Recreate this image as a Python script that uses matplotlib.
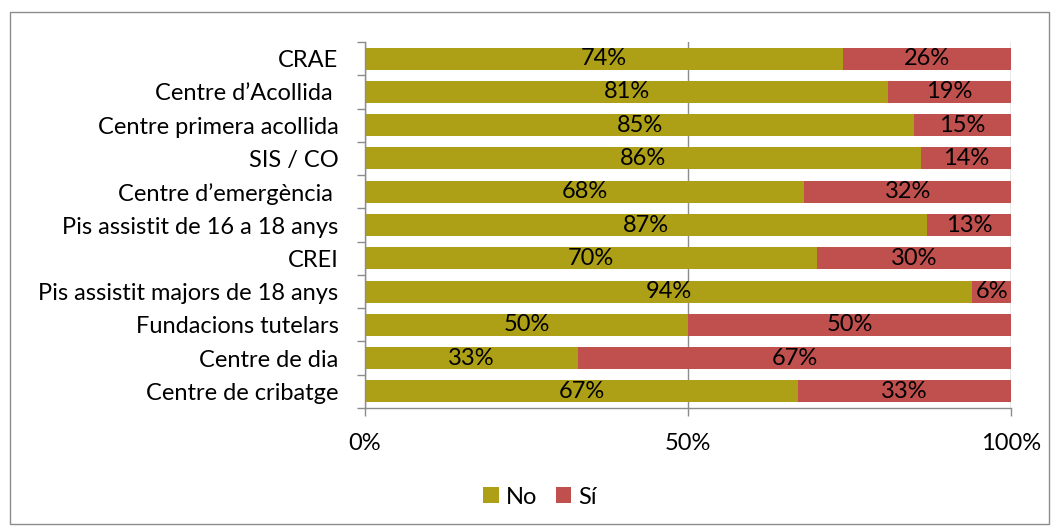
import matplotlib
matplotlib.use("Agg")
import matplotlib.pyplot as plt
from matplotlib.patches import Rectangle

plt.rcParams['font.family'] = ['Lato', 'DejaVu Sans']

categories = ["CRAE", "Centre d’Acollida ", "Centre primera acollida", "SIS / CO",
              "Centre d’emergència ", "Pis assistit de 16 a 18 anys", "CREI",
              "Pis assistit majors de 18 anys", "Fundacions tutelars",
              "Centre de dia", "Centre de cribatge"]
no_vals = [74, 81, 85, 86, 68, 87, 70, 94, 50, 33, 67]
si_vals = [26, 19, 15, 14, 32, 13, 30, 6, 50, 67, 33]
xticks = [0, 50, 100]
xtick_labels = ["0%", "50%", "100%"]

c_no = "#ADA016"
c_si = "#C0504D"
grid_c = "#8C8C8C"

fig = plt.figure(figsize=(10.58, 5.31), dpi=100)
fig.patches.append(Rectangle((10/1058, 1 - 524/531), 1039/1058, 512/531,
                             transform=fig.transFigure, fill=False,
                             edgecolor="#8C8C8C", linewidth=1.0))
ax = fig.add_axes([365/1058, 1 - 408/531, 646/1058, 366/531])

n = len(categories)
ys = list(range(n))
ax.barh(ys, no_vals, height=0.66, color=c_no, label="No", zorder=2)
ax.barh(ys, si_vals, left=no_vals, height=0.66, color=c_si, label="Sí", zorder=2)

fs = 17
for y, a, b in zip(ys, no_vals, si_vals):
    ax.text(a / 2, y, f"{a}%", ha="center", va="center", fontsize=fs, color="black", zorder=3)
    ax.text(a + b / 2, y, f"{b}%", ha="center", va="center", fontsize=fs, color="black", zorder=3)

ax.set_xlim(0, 100)
ax.set_ylim(n - 0.5, -0.5)
ax.set_yticks([i - 0.5 for i in range(n + 1)], minor=False)
ax.set_yticklabels([])
ax.set_yticks(ys, minor=True)
ax.set_yticklabels(categories, minor=True, fontsize=fs)
ax.tick_params(axis="y", which="minor", length=0, pad=19)
ax.tick_params(axis="y", which="major", length=6, color=grid_c, width=1)
ax.set_xticks(xticks)
ax.set_xticklabels(xtick_labels, fontsize=fs)
ax.tick_params(axis="x", length=6, color=grid_c, width=1, pad=12)
ax.xaxis.grid(True, color=grid_c, linewidth=1, zorder=0)
ax.set_axisbelow(True)
for s in ["top", "right"]:
    ax.spines[s].set_visible(False)
for s in ["left", "bottom"]:
    ax.spines[s].set_color(grid_c)
    ax.spines[s].set_linewidth(1)

fig.legend(loc="center", bbox_to_anchor=(540/1058, 1 - 497/531), ncol=2, frameon=False,
           fontsize=fs, handlelength=0.65, handleheight=0.65, handletextpad=0.3,
           columnspacing=0.8)

fig.savefig("out.png", dpi=100)
